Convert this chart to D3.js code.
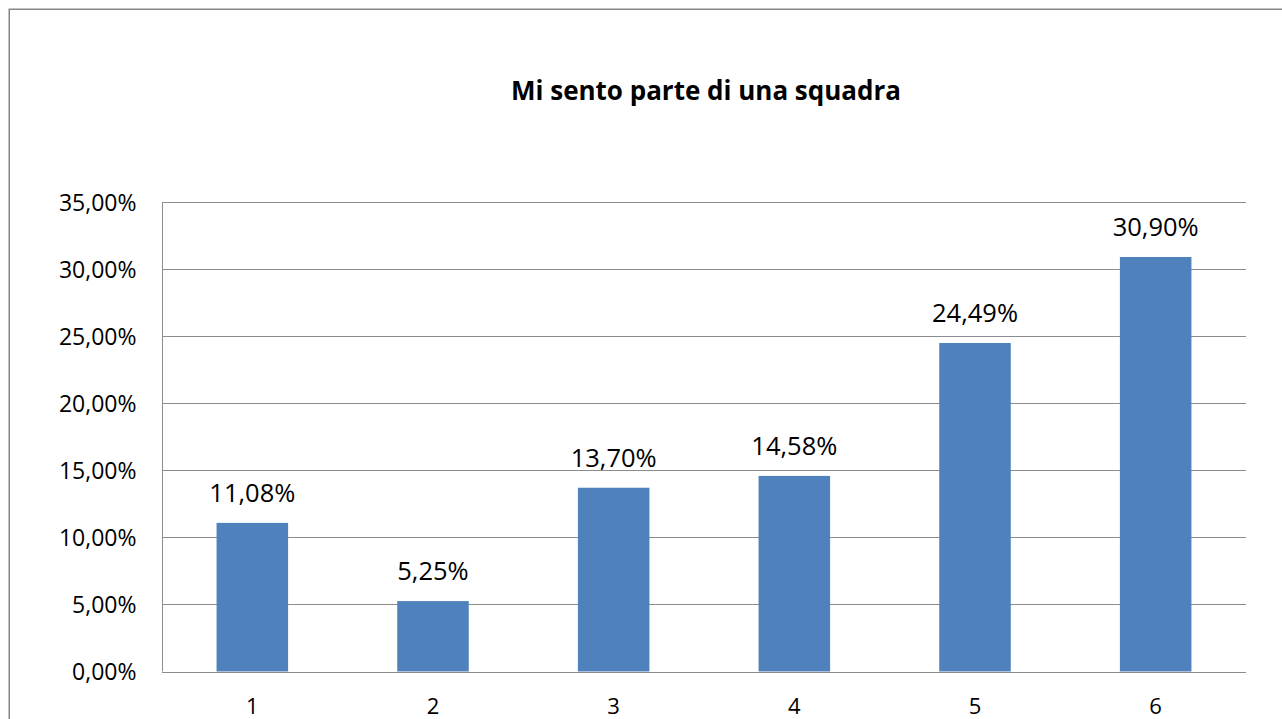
<!DOCTYPE html>
<html><head><meta charset="utf-8">
<script src="https://cdn.jsdelivr.net/npm/d3@7"></script>
<style>html,body{margin:0;padding:0;background:#fff;overflow:hidden}</style>
</head><body>
<svg id="c" width="1282" height="719"></svg>
<script>
const categories = ["1","2","3","4","5","6"];
const values = [11.08, 5.25, 13.70, 14.58, 24.49, 30.90];
const yTicks = [0,5,10,15,20,25,30,35];
const title = "Mi sento parte di una squadra";

const svg = d3.select("#c");
const font = "'Open Sans', 'Noto Sans', sans-serif";
const fmt = v => d3.format(".2f")(v).replace(".", ",") + "%";

// outer chart border
svg.append("rect").attr("x",9.25).attr("y",9.25).attr("width",1400).attr("height",900)
  .attr("fill","#fff").attr("stroke","#868686").attr("stroke-width",1.5);

const L=162, R=1246, T=202, B=671.5;
const x = d3.scaleBand().domain(categories).range([L,R]).padding(0);
const y = d3.scaleLinear().domain([0,35]).range([B,T]);

// gridlines
svg.append("g").selectAll("line").data(yTicks).join("line")
  .attr("x1",L).attr("x2",R).attr("y1",d=>Math.round(y(d))+0.5).attr("y2",d=>Math.round(y(d))+0.5)
  .attr("stroke","#8c8c8c").attr("stroke-width",1);

// y axis
const yAxis = svg.append("g").attr("transform",`translate(${L+0.5},0)`)
  .call(d3.axisLeft(y).tickValues(yTicks).tickSize(0).tickPadding(26).tickFormat(fmt));
yAxis.select(".domain").attr("stroke","#8c8c8c").attr("d",`M0,${T}V${B}`);
yAxis.selectAll("text").attr("font-family",font).attr("font-size",23).attr("fill","#000").attr("dy","0.36em");

// x axis
const xAxis = svg.append("g").attr("transform",`translate(0,${Math.round(B)+0.5})`)
  .call(d3.axisBottom(x).tickSize(0).tickPadding(0));
xAxis.select(".domain").attr("stroke","#8c8c8c").attr("d",`M${L},0H${R}`);
xAxis.selectAll("text").attr("font-family",font).attr("font-size",22).attr("fill","#000")
  .attr("y",41).attr("dy",null);

// bars
const bw = x.bandwidth()*0.396;
svg.append("g").selectAll("rect").data(values).join("rect")
  .attr("x",(d,i)=>x(categories[i])+x.bandwidth()/2-bw/2)
  .attr("width",bw)
  .attr("y",d=>y(d))
  .attr("height",d=>B-y(d))
  .attr("fill","#4F81BD");

// data labels
svg.append("g").selectAll("text").data(values).join("text")
  .attr("x",(d,i)=>x(categories[i])+x.bandwidth()/2)
  .attr("y",d=>y(d)-21)
  .attr("text-anchor","middle")
  .attr("font-family",font).attr("font-size",25.5).attr("fill","#000")
  .text(fmt);

// title
svg.append("text").attr("x",706).attr("y",100).attr("text-anchor","middle")
  .attr("font-family",font).attr("font-size",26).attr("font-weight","bold").attr("fill","#000")
  .text(title);
</script>
</body></html>
